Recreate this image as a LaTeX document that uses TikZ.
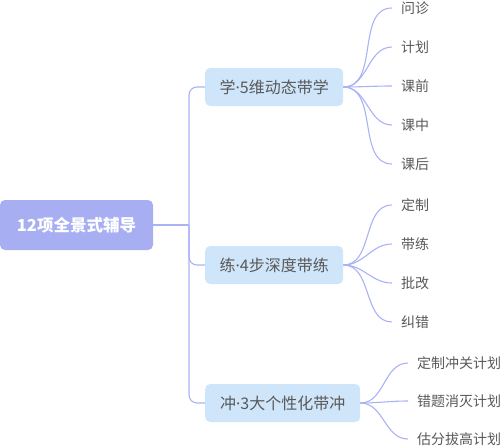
\documentclass[tikz,border=0pt]{standalone}
\usepackage{fontspec}
\setmainfont{Noto Sans CJK SC}
\newfontfamily\latinfont{Noto Sans}
\newcommand{\mdot}{{\latinfont ·}}
\usepackage{tikz}
\usetikzlibrary{positioning,calc}
\definecolor{rootfill}{HTML}{A7AFF2}
\definecolor{boxfill}{HTML}{CFE5FA}
\definecolor{linkcol}{HTML}{AAB2F6}
\definecolor{txtcol}{HTML}{595959}
\tikzset{
root/.style = {fill=rootfill, rounded corners=5pt, minimum width=153pt, minimum height=50pt, text=white, font=\fontsize{16.5}{18}\selectfont\bfseries},
branch/.style = {fill=boxfill, rounded corners=5pt, minimum height=38pt, inner xsep=0pt, anchor=west, text=txtcol, font=\fontsize{16}{18}\selectfont},
leaf/.style = {anchor=west, inner xsep=9pt, inner ysep=0pt, text=txtcol, font=\fontsize{14}{16}\selectfont},
link/.style = {draw=linkcol, line width=1.1pt},
tmp/.style = {coordinate}
}
\begin{document}
\begin{tikzpicture}[x=1pt,y=-1pt]
\useasboundingbox (0,0) rectangle (500,447);
\node[root] (root) at (76.5,225) {12项全景式辅导};
\node[tmp] (trunk) at (189,225) {};
\node[branch, minimum width=138pt] (learn) at (205,87) {学\mdot 5维动态带学};
\node[branch, minimum width=138pt] (drill) at (205,265) {练\mdot 4步深度带练};
\node[branch, minimum width=155pt] (rush) at (205,403) {冲\mdot 3大个性化带冲};
\node[leaf] (l1) at (392,8) {问诊};
\node[leaf] (l2) at (392,47) {计划};
\node[leaf] (l3) at (392,86) {课前};
\node[leaf] (l4) at (392,125) {课中};
\node[leaf] (l5) at (392,164) {课后};
\node[leaf] (d1) at (392,205) {定制};
\node[leaf] (d2) at (392,244) {带练};
\node[leaf] (d3) at (392,283) {批改};
\node[leaf] (d4) at (392,322) {纠错};
\node[leaf] (r1) at (408,363) {定制冲关计划};
\node[leaf] (r2) at (408,401) {错题消灭计划};
\node[leaf] (r3) at (408,439) {估分拔高计划};
\draw[link] (root) -- (trunk);
\draw[link, rounded corners=8pt] (learn.west) -| (trunk) |- (rush.west);
\draw[link, rounded corners=8pt] (trunk) |- (drill.west);
\foreach \n in {l1,l2,l3,l4,l5}
  \draw[link] (learn.east) to[out=0,in=180] (\n.west);
\foreach \n in {d1,d2,d3,d4}
  \draw[link] (drill.east) to[out=0,in=180] (\n.west);
\foreach \n in {r1,r2,r3}
  \draw[link] (rush.east) to[out=0,in=180] (\n.west);
\end{tikzpicture}
\end{document}
